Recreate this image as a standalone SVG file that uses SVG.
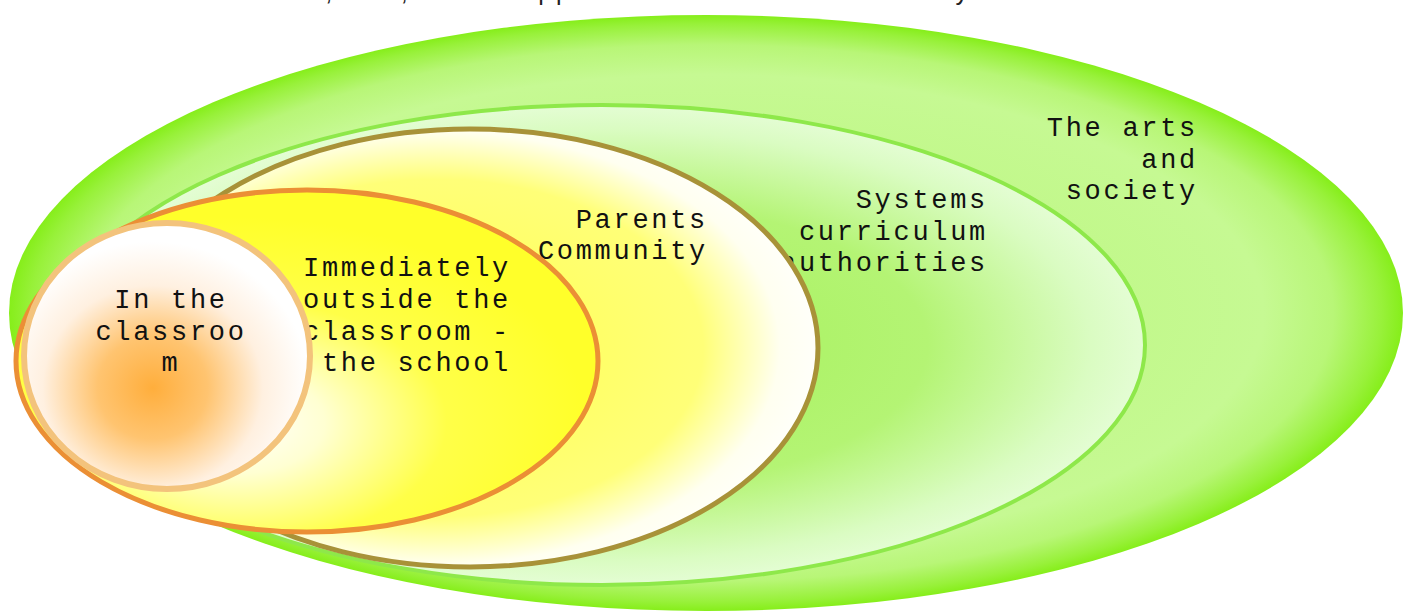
<svg xmlns="http://www.w3.org/2000/svg" width="1404" height="616" viewBox="0 0 1404 616">
<style>
.lbl{font-family:"Liberation Mono","Courier New",monospace;font-size:27px;letter-spacing:2.7px;fill:#111;}
.r{text-anchor:end;}
.m{text-anchor:middle;}
</style>
<defs>
<radialGradient id="gOuter" cx="0.5" cy="0.5" r="0.5">
<stop offset="0" stop-color="#b6f676"/>
<stop offset="0.8" stop-color="#c6f993"/>
<stop offset="0.9" stop-color="#b8f677"/>
<stop offset="0.97" stop-color="#98f13a"/>
<stop offset="1" stop-color="#86ee1a"/>
</radialGradient>
<radialGradient id="gSys" cx="0.5" cy="0.5" r="0.5">
<stop offset="0" stop-color="#a4f158"/>
<stop offset="0.6" stop-color="#b4f474"/>
<stop offset="0.9" stop-color="#dafcc2"/>
<stop offset="1" stop-color="#e4fdd4"/>
</radialGradient>
<radialGradient id="gPar" cx="0.45" cy="0.5" r="0.55">
<stop offset="0" stop-color="#ffff50"/>
<stop offset="0.7" stop-color="#ffff78"/>
<stop offset="0.9" stop-color="#fffff0"/>
<stop offset="1" stop-color="#fffffa"/>
</radialGradient>
<radialGradient id="gImm" cx="0.38" cy="0.68" r="0.6">
<stop offset="0" stop-color="#ffffff"/>
<stop offset="0.25" stop-color="#ffffd2"/>
<stop offset="0.6" stop-color="#ffff48"/>
<stop offset="1" stop-color="#ffff2a"/>
</radialGradient>
<radialGradient id="gCls" cx="0.45" cy="0.62" r="0.55">
<stop offset="0" stop-color="#ffae3c"/>
<stop offset="0.35" stop-color="#ffc470"/>
<stop offset="0.7" stop-color="#fff0e0"/>
<stop offset="1" stop-color="#ffffff"/>
</radialGradient>
</defs>
<rect width="1404" height="616" fill="#ffffff"/>
<g id="caption">
<text x="0" y="-0.5" font-family="Liberation Sans, Arial, sans-serif" font-size="25" fill="#222" textLength="968">curriculum authorities, and, what happens in the arts and society</text>
</g>
<g id="connectors"/>
<g id="node-arts">
<ellipse cx="706" cy="313" rx="697" ry="298" fill="url(#gOuter)"/>
<text class="lbl r" x="1198" y="136">The arts</text>
<text class="lbl r" x="1198" y="168">and</text>
<text class="lbl r" x="1198" y="199">society</text>
</g>
<g id="node-systems">
<ellipse cx="602" cy="345" rx="543" ry="240" fill="url(#gSys)" stroke="#8ee84a" stroke-width="4"/>
<text class="lbl r" x="988" y="208">Systems</text>
<text class="lbl r" x="988" y="240">curriculum</text>
<text class="lbl r" x="988" y="271">authorities</text>
</g>
<g id="node-parents">
<ellipse cx="470" cy="348" rx="348" ry="219" fill="url(#gPar)" stroke="#a89238" stroke-width="5"/>
<text class="lbl r" x="708" y="228">Parents</text>
<text class="lbl r" x="708" y="259">Community</text>
</g>
<g id="node-school">
<ellipse cx="307" cy="361" rx="291" ry="171" fill="url(#gImm)" stroke="#eb8f35" stroke-width="5"/>
<text class="lbl r" x="511" y="276">Immediately</text>
<text class="lbl r" x="511" y="308">outside the</text>
<text class="lbl r" x="511" y="340">classroom -</text>
<text class="lbl r" x="511" y="371">the school</text>
</g>
<g id="node-classroom">
<ellipse cx="167" cy="356" rx="143" ry="133" fill="url(#gCls)" stroke="#f3c37c" stroke-width="6"/>
<text class="lbl m" x="171" y="308">In the</text>
<text class="lbl m" x="171" y="340">classroo</text>
<text class="lbl m" x="171" y="371">m</text>
</g>
</svg>
